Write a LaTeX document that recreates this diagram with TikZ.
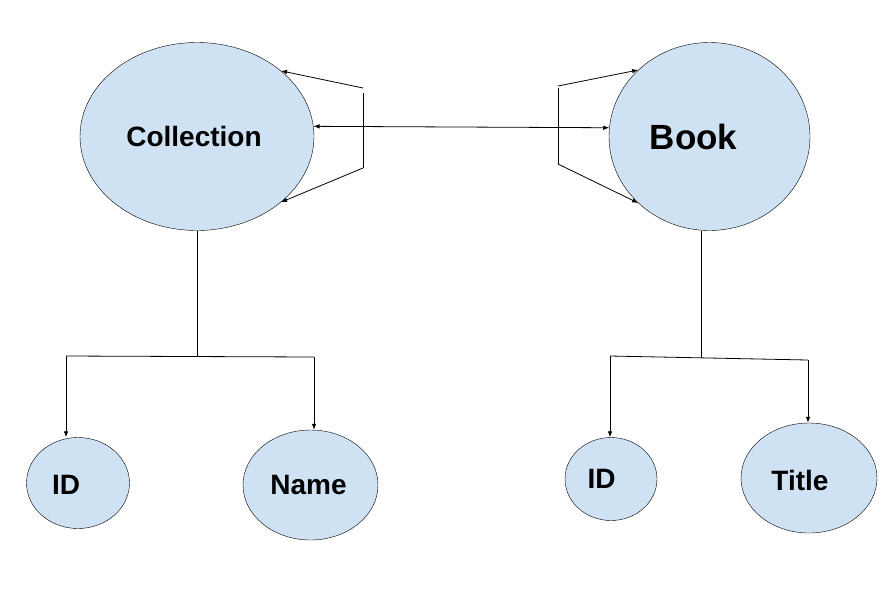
\documentclass[tikz,border=0pt]{standalone}
\usepackage{fontspec}
\setmainfont{Liberation Sans}
\usetikzlibrary{shapes.geometric,arrows.meta}
\definecolor{entfill}{HTML}{CFE2F3}
\begin{document}
\begin{tikzpicture}[x=1pt,y=-1pt,
	ent/.style={ellipse, draw=black, fill=entfill, inner sep=0pt},
	tag/.style={inner sep=0pt, font=\bfseries\fontsize{28}{30}\selectfont},
	rel/.style={line width=0.8pt},
	>={Latex[length=6pt,width=4.5pt]}]
	\useasboundingbox[fill=white] (0,0) rectangle (893,598);

	% the two entities
	\node 	(coll)	at	(197,136.5) 	[ent,minimum width=234,minimum height=188,
		label={[tag,xshift=-3]center:Collection}]{};
	\node 	(book)	at	(709.5,136.5) 	[ent,minimum width=201,minimum height=188,
		label={[tag,xshift=-16,font=\bfseries\fontsize{35}{38}\selectfont]center:Book}]{};

	% attributes
	\node 	(cid)	at	(78,483) 	[ent,minimum width=103,minimum height=91,
		label={[tag,xshift=-12,yshift=-2]center:ID}]{};
	\node 	(cname)	at	(310.5,485) 	[ent,minimum width=135,minimum height=110,
		label={[tag,xshift=-2]center:Name}]{};
	\node 	(bid)	at	(611,479) 	[ent,minimum width=92,minimum height=83,
		label={[tag,xshift=-9.5]center:ID}]{};
	\node 	(btitle)	at	(809,478) 	[ent,minimum width=136,minimum height=110,
		label={[tag,xshift=-9,yshift=-2]center:Title}]{};

	% relation between collection and book
	\coordinate (lbarT) at (363,93);
	\coordinate (lbarB) at (363,168);
	\coordinate (rbarT) at (558,88);
	\coordinate (rbarB) at (558,164);
	\draw[rel] (lbarT) -- (lbarB);
	\draw[rel] (rbarT) -- (rbarB);
	\draw[rel,<->] (coll.5) -- (book.175);
	\draw[rel,->] ([yshift=5]lbarT) -- (coll.38);
	\draw[rel,->] (lbarB) -- (coll.-38);
	\draw[rel,->] ([yshift=2]rbarT) -- (book.137);
	\draw[rel,->] (rbarB) -- (book.-137);

	% collection attributes
	\coordinate (cl) at (66,356);
	\coordinate (cr) at (314,357);
	\draw[rel] (coll.south) -- (coll.south |- cl);
	\draw[rel] (cl) -- (cr);
	\draw[rel,->] (cl) -- (cl |- cid.north);
	\draw[rel,->] (cr) -- (cr |- cname.north);

	% book attributes
	\coordinate (bj) at (701,357);
	\coordinate (bl) at (610,356);
	\coordinate (br) at (808,360);
	\draw[rel] (bj |- book.south) -- (bj);
	\draw[rel] (bl) -- (br);
	\draw[rel,->] (bl) -- (bl |- bid.north);
	\draw[rel,->] (br) -- (br |- btitle.north);

\end{tikzpicture}
\end{document}
